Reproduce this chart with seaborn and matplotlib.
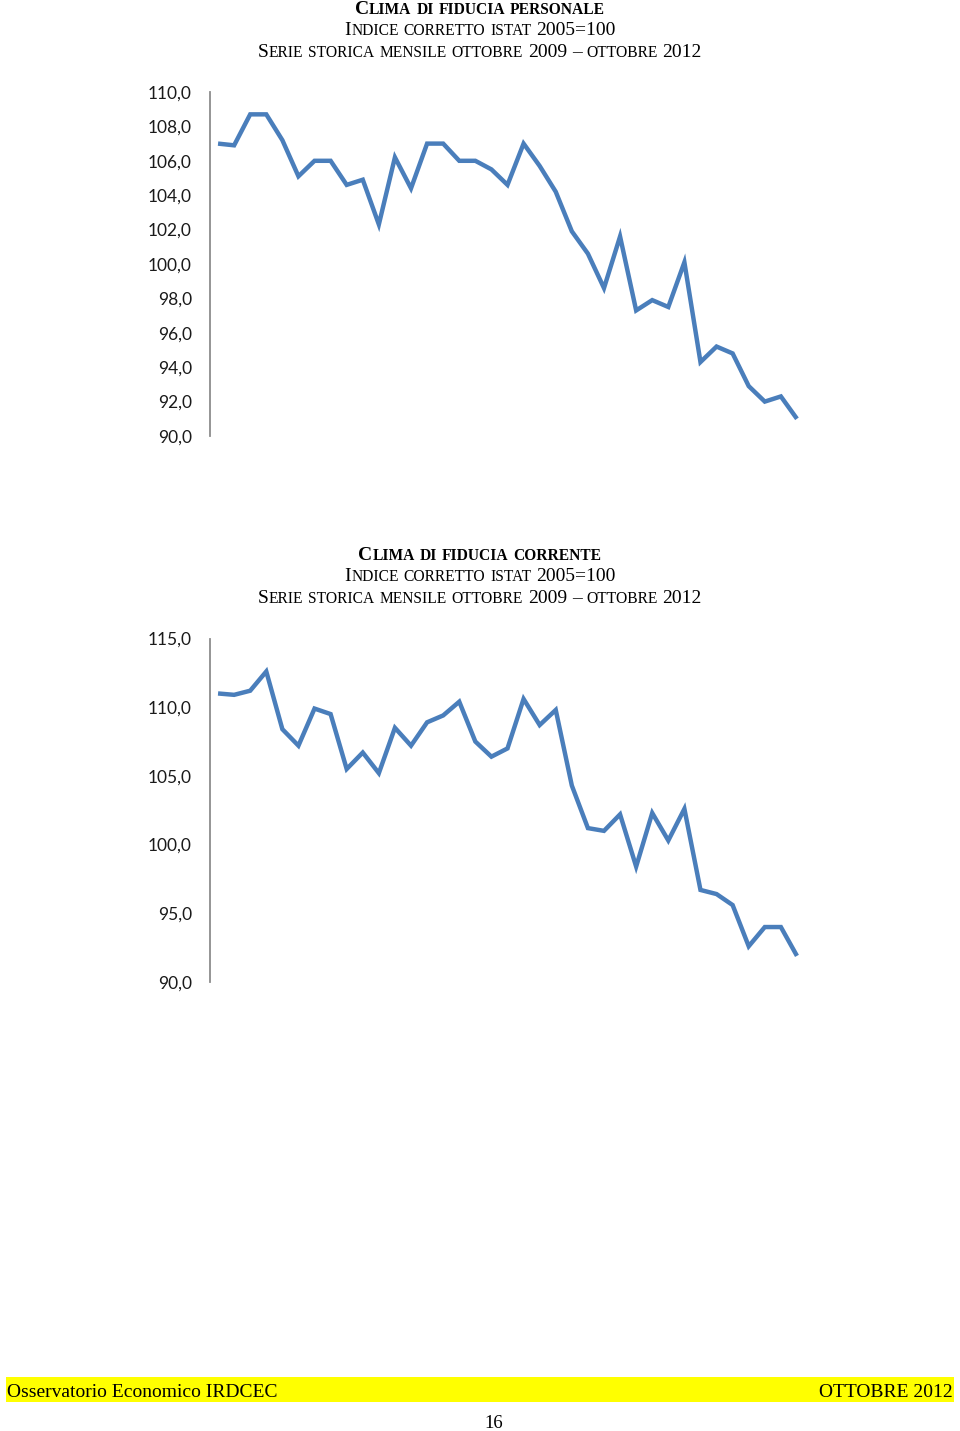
import numpy as np
import pandas as pd
import matplotlib
matplotlib.use("Agg")
import matplotlib.pyplot as plt
import seaborn as sns

# ---------------- data ----------------
months = pd.date_range("2009-10-01", "2012-10-01", freq="MS").strftime("%Y-%m").tolist()

personale = [107.0, 106.9, 108.7, 108.7, 107.2, 105.1, 106.0, 106.0, 104.6, 104.9,
             102.3, 106.2, 104.4, 107.0, 107.0, 106.0, 106.0, 105.5, 104.6, 107.0,
             105.7, 104.2, 101.9, 100.6, 98.6, 101.6, 97.3, 97.9, 97.5, 100.1,
             94.3, 95.2, 94.8, 92.9, 92.0, 92.3, 91.0]

corrente = [111.0, 110.9, 111.2, 112.6, 108.4, 107.2, 109.9, 109.5, 105.5, 106.7,
            105.2, 108.5, 107.2, 108.9, 109.4, 110.4, 107.5, 106.4, 107.0, 110.6,
            108.7, 109.8, 104.3, 101.2, 101.0, 102.2, 98.4, 102.3, 100.3, 102.6,
            96.7, 96.4, 95.6, 92.6, 94.0, 94.0, 91.9]

title1 = ["Clima di fiducia personale",
          "Indice corretto istat 2005=100",
          "Serie storica mensile ottobre 2009 – ottobre 2012"]
title2 = ["Clima di fiducia corrente",
          "Indice corretto istat 2005=100",
          "Serie storica mensile ottobre 2009 – ottobre 2012"]

yticks1 = [90, 92, 94, 96, 98, 100, 102, 104, 106, 108, 110]
yticks2 = [90, 95, 100, 105, 110, 115]

footer_left = "Osservatorio Economico IRDCEC"
footer_right = "OTTOBRE 2012"
page_number = "16"

# ---------------- figure ----------------
sns.set_theme(style="white")
plt.rcParams["font.family"] = ["Lato", "DejaVu Sans"]

W, H = 960, 1431
fig = plt.figure(figsize=(W / 100, H / 100), dpi=100)
fig.patch.set_facecolor("white")

LINE_COLOR = "#4a7ebb"
SPINE_COLOR = "#8c8c8c"


def fmt(v):
    return f"{v:.1f}".replace(".", ",")


def make_axes(top_px, bottom_px, values, ticks):
    left_px, right_px = 210, 805
    ax = fig.add_axes([left_px / W, 1 - bottom_px / H,
                       (right_px - left_px) / W, (bottom_px - top_px) / H])
    df = pd.DataFrame({"idx": np.arange(len(values)), "month": months, "value": values})
    sns.lineplot(data=df, x="idx", y="value", ax=ax, color=LINE_COLOR,
                 linewidth=3.2, solid_joinstyle="miter", solid_capstyle="butt")
    ax.set_xlim(-0.5, len(values) - 0.5)
    ax.set_ylim(ticks[0], ticks[-1])
    ax.set_yticks(ticks)
    ax.set_yticklabels([fmt(t) for t in ticks], fontsize=12.5, color="#1a1a1a")
    ax.set_xticks([])
    ax.set_xlabel("")
    ax.set_ylabel("")
    for s in ["top", "right", "bottom"]:
        ax.spines[s].set_visible(False)
    ax.spines["left"].set_color(SPINE_COLOR)
    ax.spines["left"].set_linewidth(1.3)
    ax.tick_params(axis="y", length=0, pad=13)
    ax.grid(False)
    ax.set_facecolor("none")
    return ax


make_axes(92, 436, personale, yticks1)
make_axes(638.5, 982, corrente, yticks2)

renderer = fig.canvas.get_renderer()
SERIF = "Liberation Serif"


def draw_smallcaps(s, cx, baseline_px, big, small, weight="normal"):
    # split into runs: spaces, lowercase (rendered as small caps), others (full size)
    runs = []
    for ch in s:
        if ch == " ":
            kind = "space"
        elif ch.islower():
            kind = "small"
        else:
            kind = "big"
        if runs and runs[-1][0] == kind:
            runs[-1][1] += ch
        else:
            runs.append([kind, ch])
    items = []
    for kind, txt in runs:
        if kind == "space":
            items.append((None, 0.25 * big * 100 / 72 * len(txt)))
        else:
            size = small if kind == "small" else big
            t = fig.text(0, 1 - baseline_px / H, txt.upper(), fontsize=size,
                         family=SERIF, weight=weight, ha="left", va="baseline",
                         color="black")
            w = t.get_window_extent(renderer).width
            items.append((t, w))
    total = sum(w for _, w in items)
    x = cx - total / 2
    for t, w in items:
        if t is not None:
            t.set_x(x / W)
        x += w


for i, (line, base) in enumerate(zip(title1, [13.5, 35, 57])):
    draw_smallcaps(line, 480, base, 14, 11.2, "bold" if i == 0 else "normal")
for i, (line, base) in enumerate(zip(title2, [559.5, 581, 603])):
    draw_smallcaps(line, 480, base, 14, 11.2, "bold" if i == 0 else "normal")

# footer band
band = plt.Rectangle((6 / W, 1 - 1402 / H), (954 - 6) / W, 25 / H,
                     transform=fig.transFigure, facecolor="#ffff00",
                     edgecolor="none", zorder=0)
fig.patches.append(band)
fig.text(7 / W, 1 - 1397 / H, footer_left, family=SERIF, fontsize=14.0,
         ha="left", va="baseline", color="black")
fig.text(953 / W, 1 - 1397 / H, footer_right, family=SERIF, fontsize=14.0,
         ha="right", va="baseline", color="black")
fig.text(494 / W, 1 - 1428 / H, page_number, family=SERIF, fontsize=13.5,
         ha="center", va="baseline", color="black")

fig.savefig("out.png", dpi=100, facecolor="white")
